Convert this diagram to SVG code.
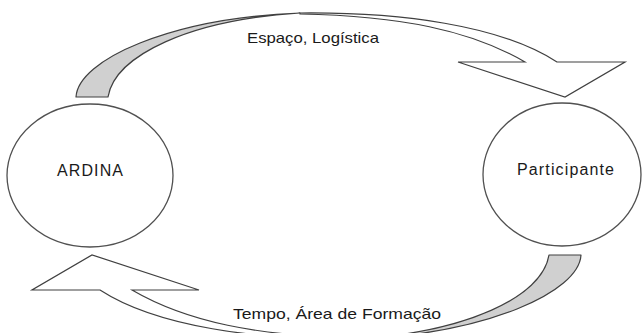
<svg xmlns="http://www.w3.org/2000/svg" width="643" height="333" viewBox="0 0 643 333">
<style>
.node{fill:#ffffff;stroke:#505050;stroke-width:1.3}
.lbl{font-family:"Liberation Sans",Arial,sans-serif;font-size:16px;fill:#1a1a1a}
.band{fill:#d0d0d0;stroke:#404040;stroke-width:1.2;stroke-linejoin:round}
.head{fill:#ffffff;stroke:#404040;stroke-width:1.2;stroke-linejoin:miter}
.elbl{font-family:"Liberation Sans",Arial,sans-serif;font-size:15px;fill:#1a1a1a}
</style>
<defs>
<g id="curvedArrow">
<path class="band" d="M76,97 C78,60 170,18 300,13 C190,20 115,55 108,97 Z"/>
<path class="head" d="M300,13 C400,12 500,25 557,62 L625,62 L565,97 L458,62 L525,62 C470,30 400,16 300,14 Z"/>
</g>
</defs>
<rect width="643" height="333" fill="#ffffff"/>
<g id="connectors">
<use href="#curvedArrow"/>
<use href="#curvedArrow" transform="rotate(180 328.5 176)"/>
<text class="elbl" x="247" y="43" textLength="132" lengthAdjust="spacingAndGlyphs">Espaço, Logística</text>
<text class="elbl" x="233" y="319" textLength="208" lengthAdjust="spacingAndGlyphs">Tempo, Área de Formação</text>
</g>
<g id="node-ardina">
<ellipse class="node" cx="90" cy="175.5" rx="83" ry="71.5"/>
<text class="lbl" x="57" y="176" textLength="66" lengthAdjust="spacing">ARDINA</text>
</g>
<g id="node-participante">
<ellipse class="node" cx="562" cy="174.5" rx="79" ry="71.5"/>
<text class="lbl" x="517" y="175" textLength="97" lengthAdjust="spacing">Participante</text>
</g>
</svg>
